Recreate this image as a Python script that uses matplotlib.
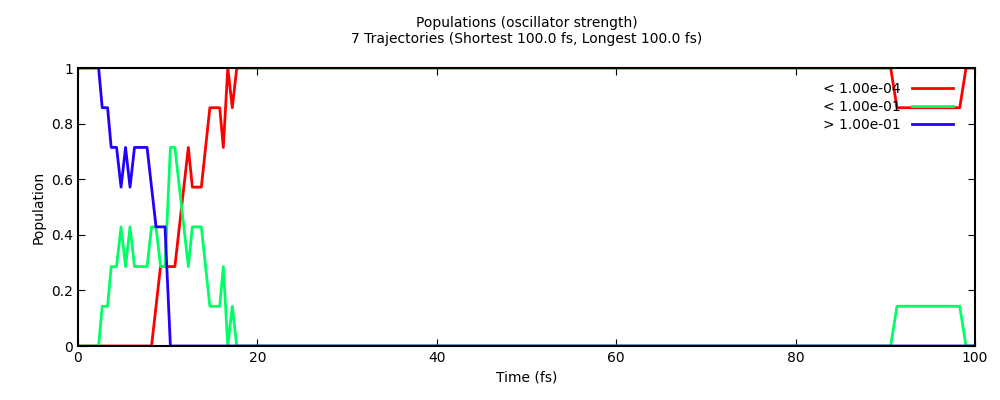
import matplotlib
matplotlib.use("Agg")
import matplotlib.pyplot as plt
from matplotlib.ticker import FuncFormatter

# populations in units of 1/7 trajectories
red_t = [0, 8.2, 9.2, 10.8, 12.3, 12.75, 13.75, 14.7, 15.8, 16.2, 16.7, 17.2, 17.7, 90.6, 91.3, 98.3, 99.0, 100]
red_n = [0, 0, 2, 2, 5, 4, 4, 6, 6, 5, 7, 6, 7, 7, 6, 6, 7, 7]
green_t = [0, 2.3, 2.7, 3.3, 3.7, 4.3, 4.8, 5.3, 5.8, 6.3, 7.7, 8.2, 8.7, 9.2, 9.7, 10.3, 10.8, 12.3,
           12.75, 13.75, 14.7, 15.8, 16.2, 16.7, 17.2, 17.7, 90.6, 91.3, 98.3, 99.0, 100]
green_n = [0, 0, 1, 1, 2, 2, 3, 2, 3, 2, 2, 3, 3, 2, 2, 5, 5, 2,
           3, 3, 1, 1, 2, 0, 1, 0, 0, 1, 1, 0, 0]
blue_t = [0, 2.3, 2.7, 3.3, 3.7, 4.3, 4.8, 5.3, 5.8, 6.3, 7.7, 8.7, 9.7, 10.3, 100]
blue_n = [7, 7, 6, 6, 5, 5, 4, 5, 4, 5, 5, 3, 3, 0, 0]
ntraj = 7

fig = plt.figure(figsize=(10, 4), dpi=100)
ax = fig.add_axes([0.078, 0.135, 0.897, 0.695])
ax.plot(red_t, [v / ntraj for v in red_n], color="#ff0000", lw=2, label="< 1.00e-04")
ax.plot(green_t, [v / ntraj for v in green_n], color="#00ff66", lw=2, label="< 1.00e-01")
ax.plot(blue_t, [v / ntraj for v in blue_n], color="#2200ff", lw=2, label="> 1.00e-01")
for s in ax.spines.values():
    s.set_zorder(5)
    s.set_linewidth(1.5)

ax.set_xlim(0, 100)
ax.set_ylim(0, 1)
ax.set_xticks([0, 20, 40, 60, 80, 100])
ax.set_yticks([0, 0.2, 0.4, 0.6, 0.8, 1])
ax.yaxis.set_major_formatter(FuncFormatter(lambda v, p: "%g" % v))
ax.tick_params(direction="in", top=True, right=True, labelsize=10, length=5)
ax.set_xlabel("Time (fs)", fontsize=10)
ax.set_ylabel("Population", fontsize=10)
ax.set_title("Populations (oscillator strength)\n7 Trajectories (Shortest 100.0 fs, Longest 100.0 fs)",
             fontsize=10, linespacing=1.2, pad=18)
leg = ax.legend(loc="upper right", frameon=False, fontsize=10, markerfirst=False,
                handlelength=3, borderaxespad=0.2, labelspacing=0.3, bbox_to_anchor=(0.985, 0.98))
fig.savefig("out.png")
